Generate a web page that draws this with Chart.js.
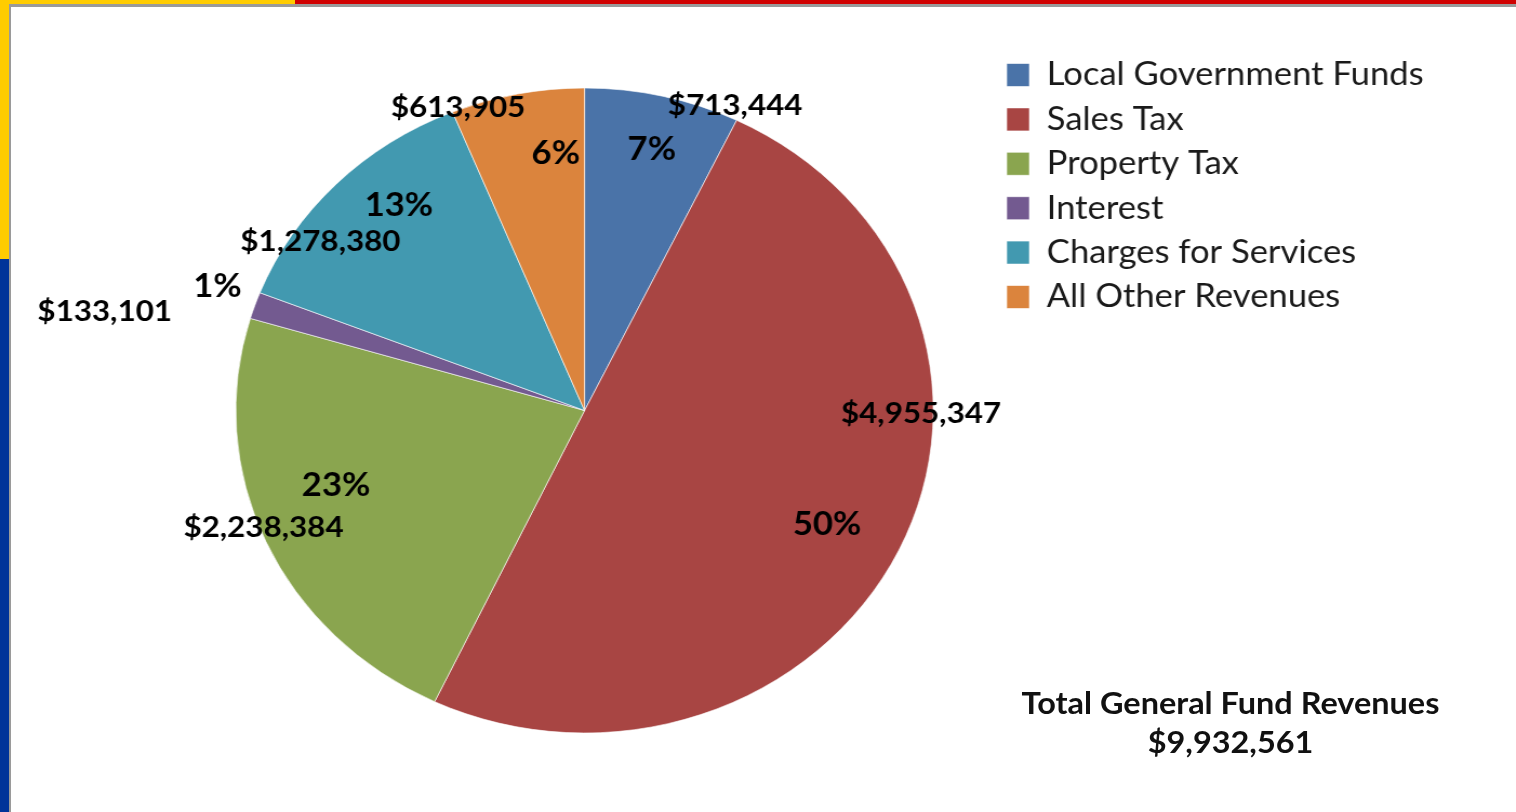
<!DOCTYPE html>
<html>
<head>
<meta charset="utf-8">
<title>General Fund Revenues</title>
<script src="https://cdn.jsdelivr.net/npm/chart.js@4.4.1/dist/chart.umd.min.js"></script>
<style>
  html, body { margin: 0; padding: 0; background: #fff; overflow: hidden; }
  body { width: 1516px; height: 812px; position: relative; font-family: Lato, sans-serif; }
  /* the original picture is stretched sideways, so the whole chart is too */
  .stage { position: absolute; left: 0; top: 0; width: 1402px; height: 812px; transform: scaleX(1.0813); transform-origin: 0 0; }
  .total { position: absolute; left: 938px; width: 400px; top: 683px; text-align: center; font-weight: bold; font-size: 30px; line-height: 39px; color: #111; }
  .bar { position: absolute; }
</style>
</head>
<body>
<div class="stage">
  <canvas id="revenue_chart"></canvas>
  <div class="total">Total General Fund Revenues<br>$9,932,561</div>
</div>

<!-- frame -->
<div class="bar" style="left:0;top:0;width:295px;height:4px;background:#ffcc00"></div>
<div class="bar" style="left:295px;top:0;right:0;height:4px;background:#d00000"></div>
<div class="bar" style="left:9px;top:4px;right:0;height:3px;background:#9a9a9a"></div>
<div class="bar" style="left:0;top:0;width:9px;height:259px;background:#ffcc00"></div>
<div class="bar" style="left:0;top:259px;width:9px;bottom:0;background:#003399"></div>
<div class="bar" style="left:9px;top:4px;width:2px;bottom:0;background:#9a9a9a"></div>

<script>
const categories = [
    'Local Government Funds',
    'Sales Tax',
    'Property Tax',
    'Interest',
    'Charges for Services',
    'All Other Revenues'
];
const revenues = [713444, 4955347, 2238384, 133101, 1278380, 613905];
const sliceColors = ['#4a73a8', '#a84543', '#8aa54f', '#735a90', '#4299b0', '#db843d'];

// label placement per slice: [percent radius, percent angle shift, value radius, value angle shift]
const labelPlace = [
    [0.83, 0.5, 1.04, 11.6],
    [0.78, 1.3, 0.965, -25.0],
    [0.75, 5.8, 0.99, 2.4],
    [1.12, 1.0, 1.41, -6.4],
    [0.83, 5.5, 0.92, -10.0],
    [0.80, 5.2, 1.006, -10.0]
];

Chart.defaults.font.family = 'Lato';

// legend sizes
const legendFont = 32, boxW = 21, boxH = 23, legendPad = 12.4;
const pieCx = 540.6, pieR = 322.5;

const m = document.createElement('canvas').getContext('2d');
m.font = legendFont + 'px Lato';
const textW = Math.max(...categories.map(c => m.measureText(c).width));
const legendLeft = 931 - legendPad;
const padRight = 1402 - legendLeft - (legendPad + boxW + legendFont / 2 + textW + 10);
const padLeft = 2 * pieCx - legendLeft;

const sliceLabels = {
    id: 'sliceLabels',
    afterDatasetsDraw(chart) {
        const ctx = chart.ctx;
        const total = revenues.reduce((a, b) => a + b, 0);
        ctx.save();
        ctx.textAlign = 'center';
        ctx.textBaseline = 'middle';
        ctx.fillStyle = '#000';
        chart.getDatasetMeta(0).data.forEach((arc, i) => {
            const p = arc.getProps(['x', 'y', 'startAngle', 'endAngle', 'outerRadius'], true);
            const mid = (p.startAngle + p.endAngle) / 2;
            const [pr, pa, vr, va] = labelPlace[i];

            let a = mid + pa * Math.PI / 180;
            ctx.font = 'bold 32px Lato';
            ctx.fillText(Math.round(revenues[i] / total * 100) + '%',
                p.x + Math.cos(a) * p.outerRadius * pr, p.y + Math.sin(a) * p.outerRadius * pr);

            a = mid + va * Math.PI / 180;
            ctx.font = 'bold 29px Lato';
            ctx.fillText('$' + revenues[i].toLocaleString('en-US'),
                p.x + Math.cos(a) * p.outerRadius * vr, p.y + Math.sin(a) * p.outerRadius * vr);
        });
        ctx.restore();
    }
};

new Chart(document.getElementById('revenue_chart'), {
    type: 'pie',
    data: {
        labels: categories,
        datasets: [{
            data: revenues,
            backgroundColor: sliceColors,
            borderColor: 'rgba(255,255,255,0.6)',
            borderWidth: 1
        }]
    },
    options: {
        responsive: true,
        maintainAspectRatio: false,
        animation: false,
        events: [],
        radius: pieR,
        layout: {
            padding: { top: 46.6, bottom: 37.6, left: padLeft, right: padRight }
        },
        plugins: {
            legend: {
                position: 'right',
                align: 'start',
                labels: {
                    boxWidth: boxW,
                    boxHeight: boxH,
                    padding: legendPad,
                    color: '#1a1a1a',
                    font: { size: legendFont }
                }
            },
            tooltip: { enabled: false }
        }
    },
    plugins: [sliceLabels]
});
</script>
</body>
</html>
